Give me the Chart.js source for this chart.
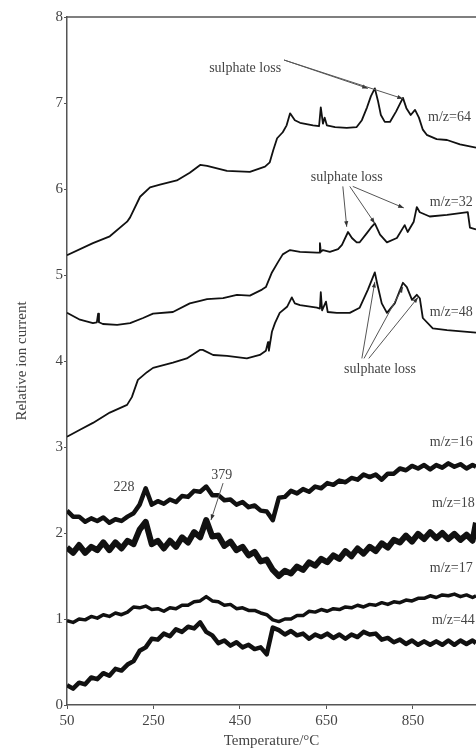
<!DOCTYPE html>
<html>
<head>
<meta charset="utf-8">
<script src="https://cdn.jsdelivr.net/npm/chart.js@4/dist/chart.umd.min.js"></script>
<style>
  html, body { margin: 0; padding: 0; background: #fff; }
  #wrap { width: 476px; height: 751px; position: relative; }
</style>
</head>
<body>
<div id="wrap"><canvas id="chart-area"></canvas></div>
<script>
// temperatures (°C) and relative ion current
var t64 = [50,110,149,189,196,219,242,265,304,334,358,374,397,420,473,508,519,527,536,549,558,566,577,589,619,633,637,642,646,651,670,697,720,732,744,753,762,769,776,785,797,811,827,835,845,855,864,873,882,905,929,959,996];
var mz64 = [5.23,5.37,5.45,5.62,5.67,5.91,6.02,6.05,6.10,6.19,6.28,6.27,6.24,6.21,6.20,6.26,6.31,6.45,6.59,6.66,6.74,6.88,6.80,6.77,6.74,6.73,6.95,6.76,6.83,6.74,6.72,6.71,6.72,6.80,6.95,7.08,7.17,7.03,6.86,6.78,6.78,6.90,7.06,6.94,6.86,6.92,6.83,6.69,6.63,6.58,6.57,6.52,6.48];

var t32 = [50,80,110,119,122,124,133,166,196,226,249,295,334,358,374,411,443,473,501,510,524,538,549,559,566,589,628,633,635,637,642,658,677,686,700,709,720,727,744,753,762,774,790,813,831,838,852,859,866,889,929,977,982,996];
var mz32 = [4.56,4.48,4.44,4.45,4.55,4.45,4.43,4.42,4.44,4.50,4.55,4.57,4.67,4.70,4.72,4.73,4.77,4.76,4.83,4.86,5.03,5.15,5.24,5.27,5.29,5.27,5.26,5.26,5.37,5.27,5.29,5.27,5.30,5.35,5.50,5.43,5.38,5.38,5.49,5.55,5.60,5.47,5.38,5.43,5.58,5.50,5.62,5.79,5.73,5.68,5.70,5.73,5.55,5.53];

var t48 = [50,80,110,149,189,200,214,235,249,295,327,358,364,388,420,466,496,510,515,517,524,531,542,559,570,577,589,628,635,637,640,649,653,674,704,727,746,762,767,778,790,808,827,836,848,859,866,873,896,929,996];
var mz48 = [3.12,3.20,3.28,3.40,3.49,3.58,3.78,3.87,3.92,3.98,4.03,4.13,4.13,4.07,4.06,4.03,4.07,4.12,4.22,4.12,4.34,4.44,4.56,4.63,4.74,4.67,4.65,4.62,4.61,4.80,4.59,4.69,4.57,4.56,4.56,4.62,4.83,5.03,4.91,4.67,4.56,4.67,4.91,4.86,4.71,4.77,4.73,4.50,4.38,4.36,4.33];

// the four noisy traces share one temperature grid
var tNoise = [50,64,78,92,106,120,134,148,162,176,190,204,218,232,246,260,274,288,302,316,330,344,358,372,386,400,414,428,442,456,470,484,498,512,526,540,554,568,582,596,610,624,638,652,666,680,694,708,722,736,750,764,778,792,806,820,834,848,862,876,890,904,918,932,946,960,974,988,996];
var mz16 = [2.26,2.19,2.19,2.13,2.17,2.14,2.18,2.12,2.16,2.14,2.19,2.23,2.33,2.52,2.33,2.37,2.34,2.39,2.36,2.43,2.42,2.49,2.48,2.54,2.44,2.44,2.38,2.39,2.33,2.36,2.30,2.32,2.26,2.25,2.15,2.41,2.42,2.49,2.46,2.51,2.48,2.54,2.52,2.58,2.56,2.61,2.59,2.64,2.62,2.68,2.65,2.68,2.62,2.69,2.69,2.75,2.73,2.78,2.75,2.79,2.74,2.79,2.76,2.81,2.77,2.80,2.75,2.79,2.77];
var mz18 = [1.83,1.77,1.86,1.77,1.84,1.80,1.89,1.80,1.89,1.82,1.91,1.87,2.04,2.13,1.87,1.91,1.82,1.91,1.84,1.95,1.89,2.01,1.95,2.15,1.96,1.97,1.85,1.90,1.80,1.84,1.74,1.78,1.67,1.69,1.57,1.50,1.56,1.53,1.61,1.57,1.66,1.62,1.70,1.66,1.74,1.70,1.79,1.73,1.82,1.76,1.84,1.79,1.88,1.83,1.92,1.89,1.97,1.90,1.99,1.93,2.01,1.94,2.00,1.93,1.99,1.92,1.98,1.91,2.12];
var mz17 = [0.98,0.96,1.00,0.99,1.03,1.01,1.05,1.03,1.07,1.05,1.08,1.14,1.13,1.15,1.11,1.12,1.09,1.13,1.12,1.16,1.16,1.20,1.21,1.26,1.21,1.20,1.16,1.17,1.12,1.13,1.10,1.10,1.07,1.05,0.99,0.97,1.00,1.00,1.04,1.04,1.09,1.08,1.11,1.09,1.12,1.11,1.14,1.13,1.16,1.14,1.17,1.16,1.19,1.17,1.20,1.19,1.22,1.21,1.24,1.24,1.27,1.25,1.28,1.27,1.29,1.26,1.28,1.25,1.27];
var mz44 = [0.23,0.19,0.26,0.24,0.32,0.30,0.37,0.34,0.42,0.40,0.47,0.51,0.63,0.67,0.77,0.76,0.83,0.80,0.88,0.85,0.91,0.89,0.96,0.85,0.81,0.72,0.75,0.69,0.73,0.67,0.70,0.65,0.67,0.59,0.90,0.87,0.82,0.86,0.81,0.83,0.77,0.82,0.79,0.83,0.78,0.82,0.77,0.82,0.79,0.85,0.82,0.83,0.76,0.78,0.73,0.76,0.71,0.75,0.70,0.74,0.70,0.74,0.70,0.75,0.70,0.75,0.71,0.75,0.72];

var xTicks = [50, 250, 450, 650, 850];
var seriesNames = ['m/z=64', 'm/z=32', 'm/z=48', 'm/z=16', 'm/z=18', 'm/z=17', 'm/z=44'];

// text notes, in data coordinates
var notes = [
    { text: 'm/z=64', x: 885, y: 6.83, align: 'left' },
    { text: 'm/z=32', x: 889, y: 5.85, align: 'left' },
    { text: 'm/z=48', x: 889, y: 4.57, align: 'left' },
    { text: 'm/z=16', x: 889, y: 3.06, align: 'left' },
    { text: 'm/z=18', x: 894, y: 2.35, align: 'left' },
    { text: 'm/z=17', x: 889, y: 1.59, align: 'left' },
    { text: 'm/z=44', x: 894, y: 0.99, align: 'left' },
    { text: 'sulphate loss', x: 462, y: 7.40, align: 'center' },
    { text: 'sulphate loss', x: 697, y: 6.14, align: 'center' },
    { text: 'sulphate loss', x: 774, y: 3.90, align: 'center' },
    { text: '228', x: 182, y: 2.53, align: 'center' },
    { text: '379', x: 408, y: 2.67, align: 'center' }
];
var arrows = [
    { from: [552, 7.50], to: [746, 7.17] },
    { from: [552, 7.50], to: [827, 7.05] },
    { from: [688, 6.03], to: [697, 5.56] },
    { from: [704, 6.03], to: [762, 5.60] },
    { from: [711, 6.03], to: [829, 5.78] },
    { from: [732, 4.03], to: [762, 4.92] },
    { from: [737, 4.03], to: [827, 4.86] },
    { from: [748, 4.03], to: [862, 4.74] },
    { from: [411, 2.58], to: [383, 2.15] }
];

function pts(xs, ys) {
    return xs.map(function (x, i) { return { x: x, y: ys[i] }; });
}

var serif = 'Liberation Serif, Times New Roman, serif';
var axisColor = '#555';
var textColor = '#444';

var notesPlugin = {
    id: 'notes',
    afterDatasetsDraw: function (chart) {
        var c = chart.ctx, sx = chart.scales.x, sy = chart.scales.y, a = chart.chartArea;
        c.save();
        // frame line on top
        c.strokeStyle = axisColor;
        c.lineWidth = 1.5;
        c.beginPath();
        c.moveTo(a.left, a.top);
        c.lineTo(a.right, a.top);
        c.stroke();

        c.strokeStyle = '#555';
        c.fillStyle = '#333';
        c.lineWidth = 1;
        arrows.forEach(function (ar) {
            var x1 = sx.getPixelForValue(ar.from[0]), y1 = sy.getPixelForValue(ar.from[1]);
            var x2 = sx.getPixelForValue(ar.to[0]), y2 = sy.getPixelForValue(ar.to[1]);
            c.beginPath();
            c.moveTo(x1, y1);
            c.lineTo(x2, y2);
            c.stroke();
            var ang = Math.atan2(y2 - y1, x2 - x1), h = 6;
            c.beginPath();
            c.moveTo(x2, y2);
            c.lineTo(x2 - h * Math.cos(ang - 0.35), y2 - h * Math.sin(ang - 0.35));
            c.lineTo(x2 - h * Math.cos(ang + 0.35), y2 - h * Math.sin(ang + 0.35));
            c.closePath();
            c.fill();
        });

        c.fillStyle = textColor;
        c.font = '14px ' + serif;
        c.textBaseline = 'middle';
        notes.forEach(function (n) {
            c.textAlign = n.align;
            c.fillText(n.text, sx.getPixelForValue(n.x), sy.getPixelForValue(n.y));
        });
        c.restore();
    }
};

var thick = [1.8, 1.8, 1.8, 4.5, 6, 3.5, 4.5];
var sets = [[t64, mz64], [t32, mz32], [t48, mz48], [tNoise, mz16], [tNoise, mz18], [tNoise, mz17], [tNoise, mz44]];

var chart = new Chart(document.getElementById('chart-area'), {
    type: 'line',
    data: {
        datasets: sets.map(function (s, i) {
            return {
                label: seriesNames[i],
                data: pts(s[0], s[1]),
                borderColor: '#111',
                borderWidth: thick[i],
                pointRadius: 0,
                tension: 0,
                fill: false,
                borderJoinStyle: 'round'
            };
        })
    },
    options: {
        responsive: true,
        maintainAspectRatio: false,
        animation: false,
        layout: { padding: { top: 17, right: 0, left: 0, bottom: 0 } },
        plugins: { legend: { display: false }, tooltip: { enabled: false } },
        scales: {
            x: {
                type: 'linear',
                min: 50,
                max: 996,
                afterBuildTicks: function (s) { s.ticks = xTicks.map(function (v) { return { value: v }; }); },
                afterFit: function (s) { s.height = 46; },
                grid: { drawOnChartArea: false, drawTicks: true, tickLength: 4, color: axisColor },
                border: { display: true, color: axisColor, width: 1.5 },
                ticks: { color: textColor, padding: 3, maxRotation: 0, font: { family: serif, size: 15 } },
                title: { display: true, text: 'Temperature/°C', color: textColor, padding: { top: 0, bottom: 1 }, font: { family: serif, size: 15 } }
            },
            y: {
                min: 0,
                max: 8,
                afterFit: function (s) { s.width = 67; },
                grid: { drawOnChartArea: false, drawTicks: true, tickLength: 3, color: axisColor },
                border: { display: true, color: axisColor, width: 1.5 },
                ticks: { stepSize: 1, color: textColor, padding: 1, font: { family: serif, size: 15 } },
                title: { display: true, text: 'Relative ion current', color: textColor, padding: { top: 13, bottom: 0 }, font: { family: serif, size: 15 } }
            }
        }
    },
    plugins: [notesPlugin]
});
</script>
</body>
</html>
